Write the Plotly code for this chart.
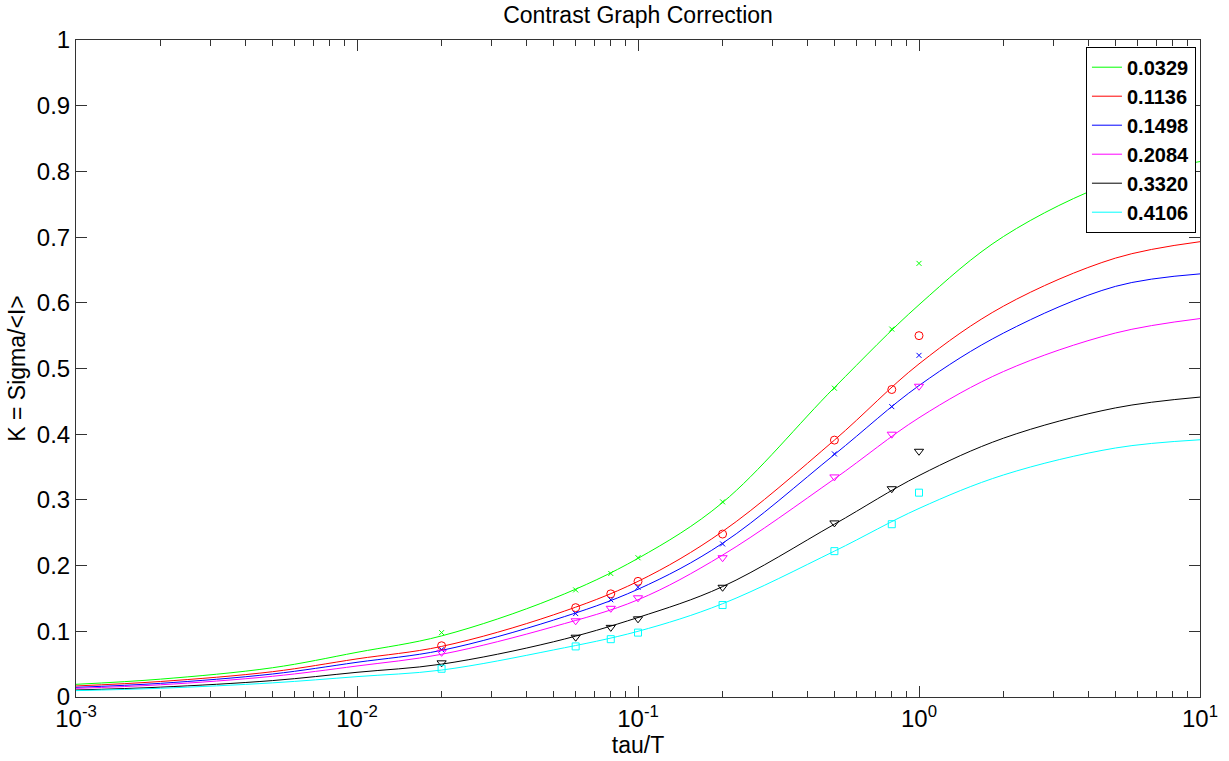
import plotly.graph_objects as go

# ---------------- data ----------------
series_names = ["0.0329", "0.1136", "0.1498", "0.2084", "0.3320", "0.4106"]
series_colors = ["#00ff00", "#ff0000", "#0000ff", "#ff00ff", "#000000", "#00ffff"]
marker_symbols = ["x-thin-open", "circle-open", "x-thin-open",
                  "triangle-down-open", "triangle-down-open", "square-open"]

# fitted curves, sampled at these tau/T values
curve_x = [0.001, 0.002, 0.005, 0.01, 0.02, 0.05, 0.1, 0.2, 0.5, 1, 2, 5, 10]
curve_green = [0.0193, 0.0272, 0.0445, 0.068, 0.093, 0.150, 0.211, 0.296, 0.471, 0.597, 0.701, 0.785, 0.815]
curve_red = [0.0168, 0.0236, 0.0385, 0.058, 0.077, 0.125, 0.176, 0.252, 0.391, 0.507, 0.595, 0.668, 0.693]
curve_blue = [0.0147, 0.0208, 0.0350, 0.0528, 0.071, 0.117, 0.164, 0.234, 0.369, 0.474, 0.554, 0.625, 0.644]
curve_magenta = [0.0132, 0.0186, 0.0315, 0.0472, 0.065, 0.107, 0.148, 0.216, 0.332, 0.425, 0.4955, 0.554, 0.576]
curve_black = [0.0107, 0.0150, 0.0250, 0.0376, 0.050, 0.084, 0.121, 0.168, 0.263, 0.337, 0.394, 0.440, 0.4565]
curve_cyan = [0.0097, 0.0133, 0.0215, 0.031, 0.041, 0.0716, 0.100, 0.142, 0.222, 0.287, 0.338, 0.379, 0.3915]

# measured points
meas_x = [0.02, 0.06, 0.08, 0.1, 0.2, 0.5, 0.8, 1.0]
meas_green = [0.098, 0.163, 0.188, 0.212, 0.297, 0.470, 0.560, 0.660]
meas_red = [0.078, 0.136, 0.157, 0.176, 0.248, 0.391, 0.468, 0.550]
meas_blue = [0.072, 0.127, 0.148, 0.167, 0.233, 0.370, 0.442, 0.520]
meas_magenta = [0.068, 0.116, 0.135, 0.151, 0.212, 0.335, 0.400, 0.473]
meas_black = [0.052, 0.091, 0.106, 0.119, 0.167, 0.265, 0.317, 0.374]
meas_cyan = [0.043, 0.077, 0.088, 0.098, 0.140, 0.222, 0.263, 0.311]

x_tick_vals = [0.001, 0.01, 0.1, 1, 10]
x_tick_text = ["10<sup>-3</sup>", "10<sup>-2</sup>", "10<sup>-1</sup>", "10<sup>0</sup>", "10<sup>1</sup>"]
x_minor_vals = [m * d for d in [0.001, 0.01, 0.1, 1] for m in range(2, 10)]
y_tick_vals = [0, 0.1, 0.2, 0.3, 0.4, 0.5, 0.6, 0.7, 0.8, 0.9, 1]
y_tick_text = ["0", "0.1", "0.2", "0.3", "0.4", "0.5", "0.6", "0.7", "0.8", "0.9", "1"]

curves = [curve_green, curve_red, curve_blue, curve_magenta, curve_black, curve_cyan]
meas = [meas_green, meas_red, meas_blue, meas_magenta, meas_black, meas_cyan]
marker_sizes = [5, 8, 5, 8, 8, 7]

FONT = "Liberation Sans, Arial, Helvetica, sans-serif"

fig = go.Figure()
for name, col, ys in zip(series_names, series_colors, curves):
    fig.add_trace(go.Scatter(x=curve_x, y=ys, mode="lines", name=name,
                             line=dict(color=col, width=1, shape="spline", smoothing=1.0)))
for name, col, sym, ys, sz in zip(series_names, series_colors, marker_symbols, meas, marker_sizes):
    fig.add_trace(go.Scatter(x=meas_x, y=ys, mode="markers", showlegend=False,
                             marker=dict(symbol=sym, color=col, size=sz,
                                         line=dict(color=col, width=1))))

axis_common = dict(showline=True, linecolor="#333333", linewidth=1, mirror="allticks",
                   ticks="inside", tickcolor="#333333", tickwidth=1, ticklen=11,
                   showgrid=False, zeroline=False,
                   tickfont=dict(family=FONT, size=24, color="#000000"))

fig.update_layout(
    width=1229, height=761,
    margin=dict(l=76, r=29, t=40, b=64),
    paper_bgcolor="white", plot_bgcolor="white",
    title=dict(text="Contrast Graph Correction", xref="paper", x=0.5, xanchor="center",
               y=1 - 15 / 761, yanchor="middle",
               font=dict(family=FONT, size=23, color="#000000")),
    xaxis=dict(type="log", range=[-3, 1], tickmode="array",
               tickvals=x_tick_vals, ticktext=x_tick_text,
               minor=dict(tickvals=x_minor_vals, ticks="inside", ticklen=6,
                          tickcolor="#333333", tickwidth=1, showgrid=False),
               title=dict(text="tau/T", standoff=2,
                          font=dict(family=FONT, size=23, color="#000000")),
               **axis_common),
    yaxis=dict(range=[0, 1], tickmode="array", tickvals=y_tick_vals, ticktext=y_tick_text,
               title=dict(text="K = Sigma/&lt;I&gt;", standoff=4,
                          font=dict(family=FONT, size=23, color="#000000")),
               **axis_common),
    legend=dict(x=0.9964, y=0.9898, xanchor="right", yanchor="top",
                bgcolor="white", bordercolor="#000000", borderwidth=1,
                font=dict(family=FONT, size=20, color="#000000", weight="bold"),
                tracegroupgap=0, itemwidth=30),
    showlegend=True,
)

fig.write_html("out.html")
